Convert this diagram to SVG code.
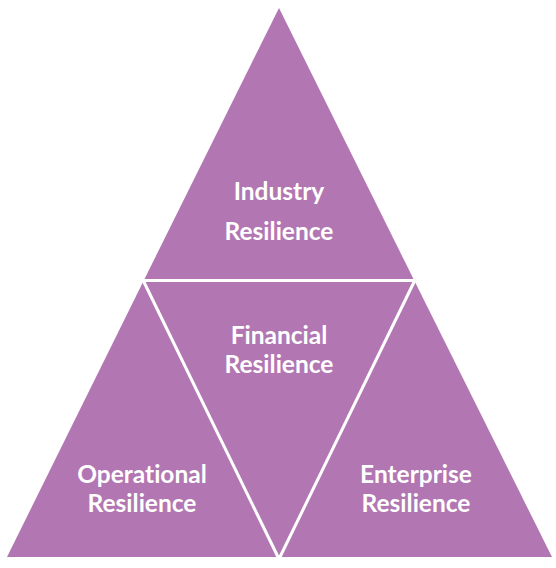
<svg xmlns="http://www.w3.org/2000/svg" width="556" height="568" viewBox="0 0 556 568">
<style>
.tri{fill:#B277B2;}
.sep{stroke:#FFFFFF;stroke-width:3;fill:none;stroke-linecap:butt;}
.lbl{font-family:Lato,"Open Sans","Liberation Sans",sans-serif;font-weight:bold;font-size:24.5px;fill:#FFFFFF;text-anchor:middle;font-variant-ligatures:none;font-feature-settings:"liga" 0,"clig" 0,"dlig" 0;}
</style>
<rect width="556" height="568" fill="#FFFFFF"/>
<g id="industry">
<polygon class="tri" points="279,8 144,280 414,280"/>
<text class="lbl" x="279" y="200">Industry</text>
<text class="lbl" x="279" y="240">Resilience</text>
</g>
<g id="operational">
<polygon class="tri" points="144,280 7,557 279,557"/>
<text class="lbl" x="142" y="483">Operational</text>
<text class="lbl" x="142" y="512">Resilience</text>
</g>
<g id="financial">
<polygon class="tri" points="144,280 414,280 279,557"/>
<text class="lbl" x="279" y="344">Financial</text>
<text class="lbl" x="279" y="373">Resilience</text>
</g>
<g id="enterprise">
<polygon class="tri" points="414,280 279,557 552,557"/>
<text class="lbl" x="416" y="483">Enterprise</text>
<text class="lbl" x="416" y="512">Resilience</text>
</g>
<g id="connectors">
<line class="sep" x1="140" y1="280.5" x2="418" y2="280.5"/>
<line class="sep" x1="142" y1="278" x2="279" y2="559"/>
<line class="sep" x1="416" y1="278" x2="279" y2="559"/>
</g>
</svg>
